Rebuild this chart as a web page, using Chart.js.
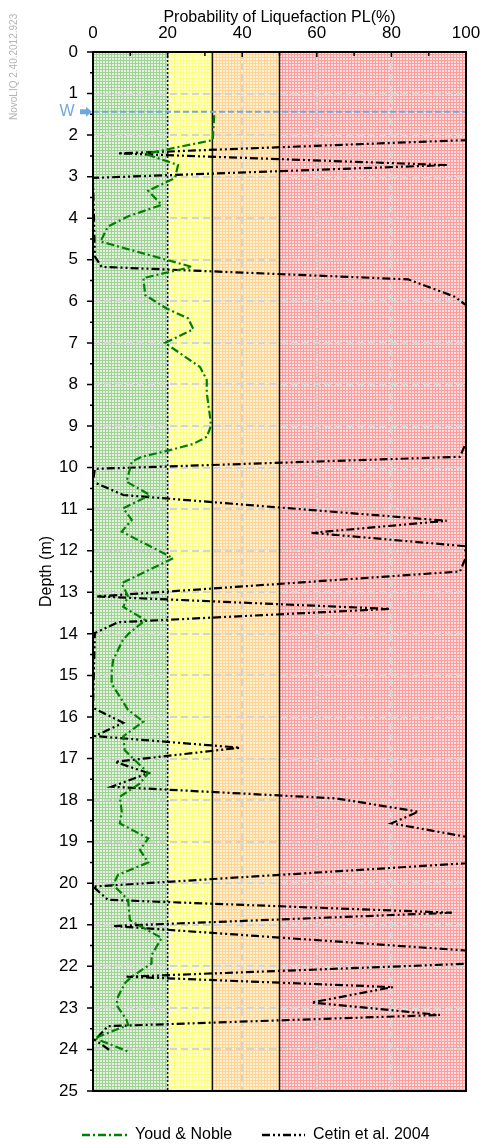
<!DOCTYPE html>
<html>
<head>
<meta charset="utf-8">
<script src="https://cdn.jsdelivr.net/npm/chart.js@4/dist/chart.umd.min.js"></script>
<style>
  html, body { margin: 0; padding: 0; background: #fff; }
  #wrap { width: 499px; height: 1144px; position: relative; }
</style>
</head>
<body>
<div id="wrap"><canvas id="plChart"></canvas></div>
<script>
// Youd & Noble profile
const youdDepth = [1.52, 2.12, 2.45, 2.72, 3.03, 3.34, 3.68, 3.95, 4.2, 4.56, 5.17, 5.29, 5.44, 5.85,
    6.17, 6.41, 6.67, 7.0, 7.58, 7.89, 8.2, 8.86, 9.0, 9.26, 9.43, 9.58, 9.74, 9.86, 10.34, 10.66,
    10.98, 11.26, 11.54, 12.18, 12.78, 13.1, 13.35, 13.67, 14.0, 14.15, 14.63, 14.9, 15.2, 15.83,
    16.11, 16.47, 16.8, 17.16, 17.35, 17.6, 17.92, 18.28, 18.56, 18.92, 19.2, 19.5, 19.8, 20.04,
    20.4, 20.89, 21.32, 21.73, 21.93, 22.25, 22.4, 22.73, 22.93, 23.29, 23.41, 23.73, 24.05];
const youdPL = [32.5, 32.1, 14, 22.8, 22, 14.8, 18.4, 9.5, 4, 2, 26.5, 20.6, 13.5, 14,
    19.7, 25.5, 26.9, 19.3, 28.7, 30.5, 30.5, 31.5, 31.6, 30.5, 26.9, 20.6, 13, 10.4, 9, 15.3,
    8.1, 10.4, 7.7, 21.5, 7.7, 9.4, 8.1, 14, 9.5, 8, 5.4, 5, 5, 9.4,
    13.5, 8.1, 8.5, 12.6, 14.8, 12.6, 7.2, 7.7, 7.2, 14.8, 12.6, 14.8, 6.7, 5.4,
    9.4, 9.9, 18.4, 15.7, 15.7, 10.4, 8.6, 6.7, 6.3, 9, 9.4, 0.5, 9.4];

// Cetin et al. 2004 profile
const cetinDepth = [1.55, 2.12, 2.44, 2.72, 3.03, 4.92, 5.17, 5.47, 5.89, 6.09, 9.4, 9.74, 10.03,
    10.34, 10.66, 11.28, 11.57, 11.89, 12.15, 12.5, 13.1, 13.4, 13.72, 13.98, 15.78, 16.14, 16.46,
    16.74, 17.08, 17.35, 17.68, 17.96, 18.28, 18.56, 18.88, 18.96, 19.52, 20.08, 20.4, 20.71, 21.03,
    21.62, 21.94, 22.25, 22.5, 22.87, 23.17, 23.44, 23.77, 24.05];
const cetinPL = [100, 100, 6.7, 95, 0, 0.5, 2.3, 84.5, 97, 100, 100, 98.4, 0.5,
    0, 8.1, 94.8, 58.6, 99.7, 100, 98.4, 1, 79.6, 6.8, 0.5, 0, 8.1, 0.5,
    39.4, 5.9, 14.8, 5, 65.3, 87.2, 80, 99.8, 100, 100, 0, 4, 96.2, 5.4,
    100, 100, 9, 80.4, 58.6, 93, 4, 0.5, 5];

// zones of the probability axis
const zoneEdges = [0, 20, 32, 50, 100];
const zoneBg = ["#e4f2e0", "#ffffd6", "#fff0d8", "#ffe0e0"];
const zoneLine = ["#9fd294", "#ffff7a", "#ffd591", "#ff9d9d"];

const waterDepth = 1.44;

const fontFamily = "'Liberation Sans', Arial, sans-serif";

function pairs(xs, ys) {
    return xs.map((x, i) => ({ x: x, y: ys[i] }));
}

function makePattern(ctx, bg, line) {
    const c = document.createElement("canvas");
    c.width = 3; c.height = 3;
    const g = c.getContext("2d");
    g.fillStyle = bg;
    g.fillRect(0, 0, 3, 3);
    g.fillStyle = line;
    g.fillRect(0, 0, 3, 1);
    g.fillRect(0, 0, 1, 3);
    return ctx.createPattern(c, "repeat");
}

const zonePlugin = {
    id: "zones",
    beforeDraw(chart) {
        const { ctx, chartArea, scales } = chart;
        ctx.save();
        for (let i = 0; i < zoneBg.length; i++) {
            const x1 = scales.x.getPixelForValue(zoneEdges[i]);
            const x2 = scales.x.getPixelForValue(zoneEdges[i + 1]);
            ctx.fillStyle = makePattern(ctx, zoneBg[i], zoneLine[i]);
            ctx.fillRect(x1, chartArea.top, x2 - x1, chartArea.bottom - chartArea.top);
        }
        ctx.restore();
    },
    beforeDatasetsDraw(chart) {
        const { ctx, chartArea, scales } = chart;
        ctx.save();
        // zone boundaries
        [[20, [2, 2], 1.5], [32, [], 1.5], [50, [], 1.5]].forEach(b => {
            const x = scales.x.getPixelForValue(b[0]);
            ctx.beginPath();
            ctx.setLineDash(b[1]);
            ctx.lineWidth = b[2];
            ctx.strokeStyle = "#111";
            ctx.moveTo(x, chartArea.top);
            ctx.lineTo(x, chartArea.bottom);
            ctx.stroke();
        });
        // water table
        const wy = scales.y.getPixelForValue(waterDepth);
        ctx.beginPath();
        ctx.setLineDash([6, 3]);
        ctx.lineWidth = 2;
        ctx.strokeStyle = "#6fa8dc";
        ctx.moveTo(chartArea.left, wy);
        ctx.lineTo(chartArea.right, wy);
        ctx.stroke();
        ctx.restore();
    },
    afterDraw(chart) {
        const { ctx, chartArea, scales } = chart;
        const { left, right, top, bottom } = chartArea;
        ctx.save();
        ctx.setLineDash([]);
        ctx.strokeStyle = "#000";

        // tick marks
        ctx.lineWidth = 1.5;
        ctx.beginPath();
        for (let v = 0; v <= 100; v += 10) {
            const x = scales.x.getPixelForValue(v);
            ctx.moveTo(x, top);
            ctx.lineTo(x, top + (v % 20 === 0 ? 5 : 4));
        }
        for (let d = 0; d <= 25; d += 0.5) {
            const y = scales.y.getPixelForValue(d);
            ctx.moveTo(left, y);
            ctx.lineTo(left - (d % 1 === 0 ? 6 : 3), y);
        }
        ctx.stroke();

        // frame
        ctx.lineWidth = 2;
        ctx.strokeRect(left, top, right - left, bottom - top);

        // water marker
        const wy = scales.y.getPixelForValue(waterDepth);
        ctx.fillStyle = "#6fa8dc";
        ctx.font = "16px " + fontFamily;
        ctx.textAlign = "center";
        ctx.textBaseline = "middle";
        ctx.fillText("W", 67, wy);
        ctx.beginPath();
        ctx.moveTo(80, wy - 2.5);
        ctx.lineTo(86, wy - 2.5);
        ctx.lineTo(86, wy - 5);
        ctx.lineTo(92, wy);
        ctx.lineTo(86, wy + 5);
        ctx.lineTo(86, wy + 2.5);
        ctx.lineTo(80, wy + 2.5);
        ctx.closePath();
        ctx.fill();

        // legend, built from the datasets
        const legendPos = [[82, 127], [262, 305]];
        const ly = 1135;
        chart.data.datasets.forEach((ds, i) => {
            const [x1, x2] = legendPos[i];
            ctx.beginPath();
            ctx.setLineDash(ds.borderDash);
            ctx.lineWidth = 2.5;
            ctx.strokeStyle = ds.borderColor;
            ctx.moveTo(x1, ly);
            ctx.lineTo(x2, ly);
            ctx.stroke();
            ctx.setLineDash([]);
            ctx.fillStyle = "#000";
            ctx.font = "16px " + fontFamily;
            ctx.textAlign = "left";
            ctx.textBaseline = "middle";
            ctx.fillText(ds.label, x2 + 8, ly);
        });

        // program stamp
        ctx.translate(14, 120);
        ctx.rotate(-Math.PI / 2);
        ctx.fillStyle = "#b4b4b4";
        ctx.font = "10px " + fontFamily;
        ctx.textAlign = "left";
        ctx.fillText("NovoLIQ 2.40.2012.923", 0, 0);
        ctx.restore();
    }
};

new Chart(document.getElementById("plChart"), {
    type: "scatter",
    data: {
        datasets: [
            {
                label: "Youd & Noble",
                data: pairs(youdPL, youdDepth),
                showLine: true,
                borderColor: "#008000",
                backgroundColor: "#008000",
                borderWidth: 2.2,
                borderDash: [8, 3, 2, 3],
                pointRadius: 0,
                tension: 0
            },
            {
                label: "Cetin et al. 2004",
                data: pairs(cetinPL, cetinDepth),
                showLine: true,
                borderColor: "#000",
                backgroundColor: "#000",
                borderWidth: 2.2,
                borderDash: [8, 3, 2, 3, 2, 3],
                pointRadius: 0,
                tension: 0
            }
        ]
    },
    options: {
        responsive: true,
        maintainAspectRatio: false,
        animation: false,
        layout: { padding: { top: 0, right: 33, left: 0, bottom: 53 } },
        scales: {
            x: {
                type: "linear",
                position: "top",
                min: 0,
                max: 100,
                ticks: { stepSize: 20, color: "#000", padding: 8, font: { family: fontFamily, size: 17 } },
                grid: { color: "#d4d4d4", lineWidth: 2, drawTicks: false },
                border: { display: false, dash: [7, 4] },
                title: {
                    display: true,
                    text: "Probability of Liquefaction PL(%)",
                    color: "#000",
                    font: { family: fontFamily, size: 16 },
                    padding: { top: 8, bottom: 0 }
                },
                afterFit(scale) { scale.height = 52; }
            },
            y: {
                type: "linear",
                reverse: true,
                min: 0,
                max: 25,
                ticks: { stepSize: 1, color: "#000", padding: 15, font: { family: fontFamily, size: 17 } },
                grid: { color: "#d4d4d4", lineWidth: 2, drawTicks: false },
                border: { display: false, dash: [7, 4] },
                title: {
                    display: true,
                    text: "Depth (m)",
                    color: "#000",
                    font: { family: fontFamily, size: 16 },
                    padding: { top: 37, bottom: 0 }
                },
                afterFit(scale) { scale.width = 93; }
            }
        },
        plugins: {
            legend: { display: false },
            tooltip: { enabled: false }
        }
    },
    plugins: [zonePlugin]
});
</script>
</body>
</html>
